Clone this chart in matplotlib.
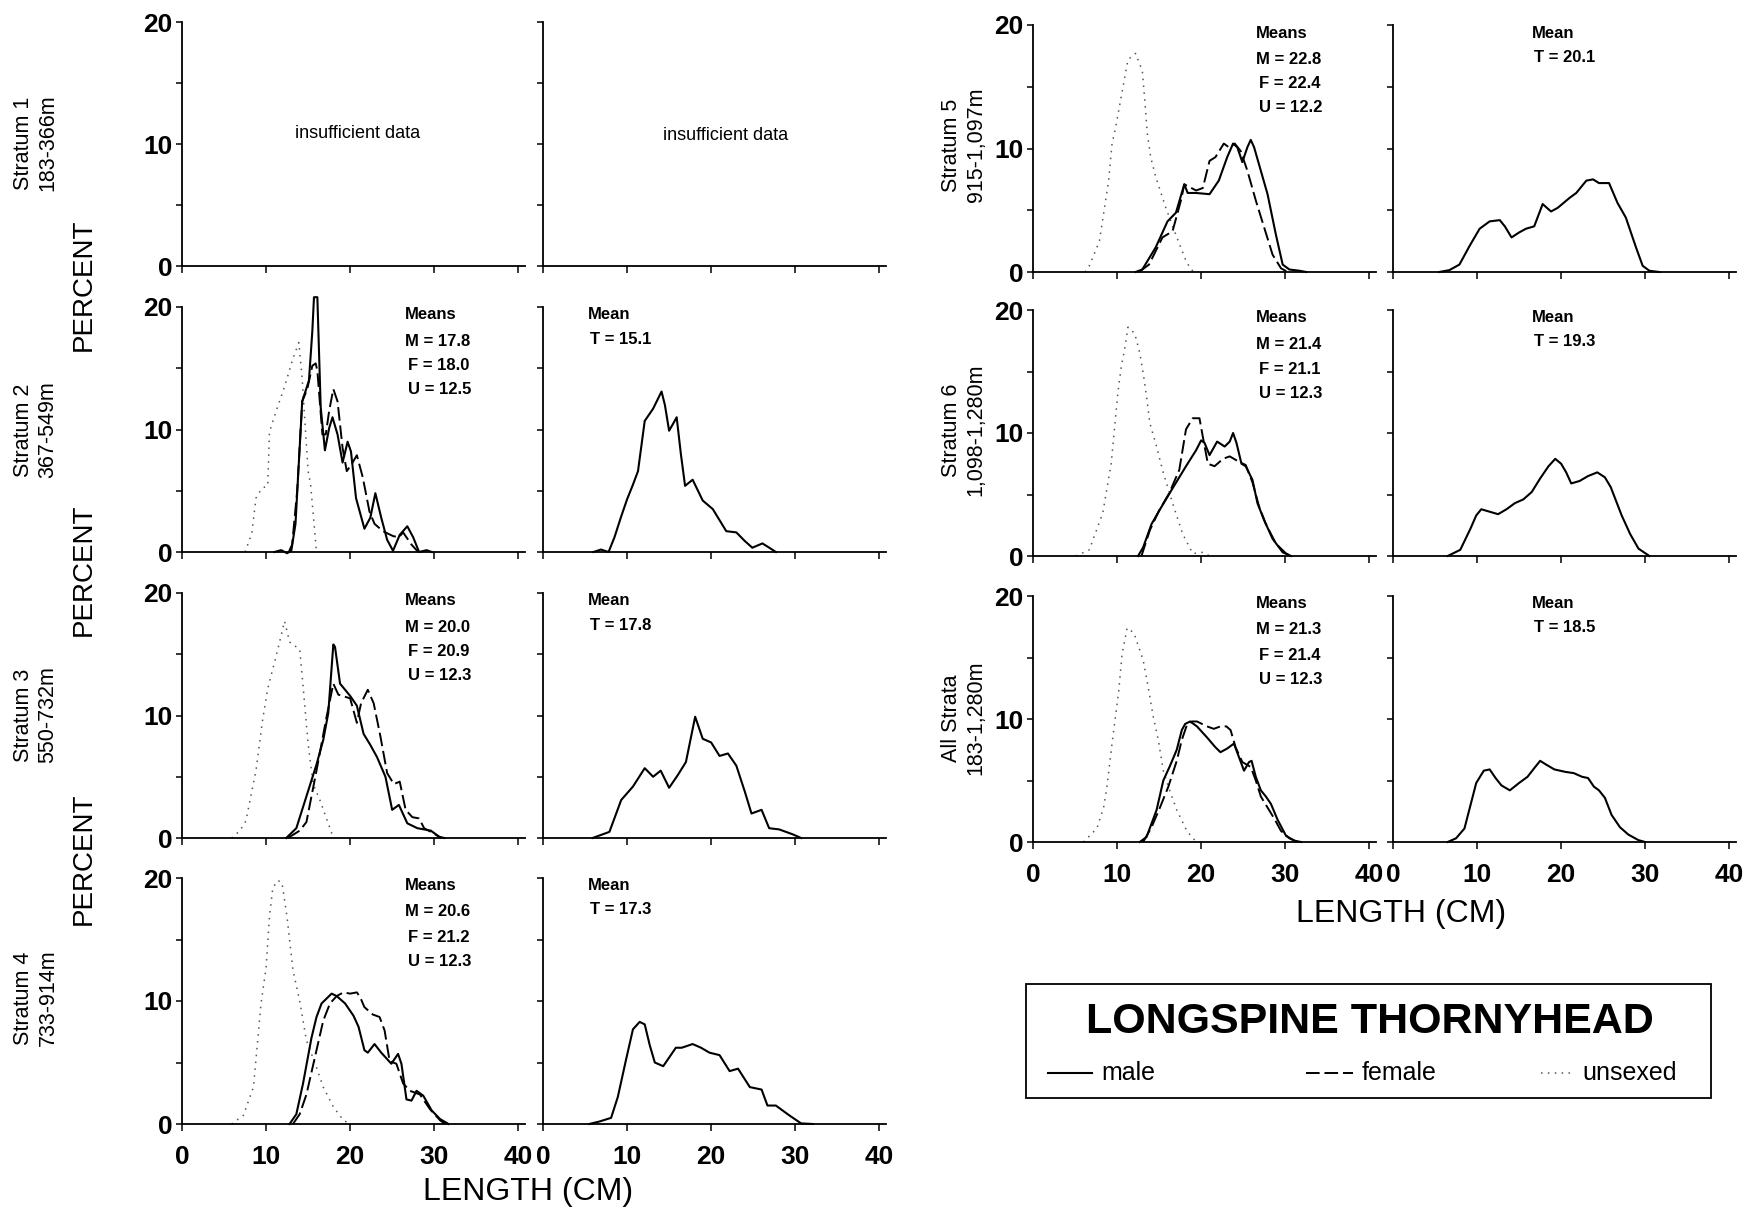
import matplotlib
matplotlib.use("Agg")
import matplotlib.pyplot as plt
from matplotlib.lines import Line2D
from matplotlib.patches import Rectangle

plt.rcParams['font.family'] = ['Liberation Sans', 'DejaVu Sans']

# ---------------- data (length cm, percent) ----------------
# Stratum 2
s2_male_x = [11.0, 11.8, 12.5, 13.0, 13.5, 14.3, 15.1, 15.5, 15.7, 16.1, 16.5, 17.0, 17.5, 17.9, 18.5, 19.1, 19.7, 20.1, 20.7, 21.7, 22.4, 23.0, 23.7, 24.4, 25.1, 25.9, 26.8, 27.5, 28.2, 29.1, 29.7]
s2_male_y = [0, 0.15, -0.1, 0.1, 2.3, 12.3, 14.0, 18.0, 20.8, 20.8, 11.8, 8.3, 10.1, 11.0, 9.6, 7.3, 9.0, 8.2, 4.4, 1.9, 2.8, 4.8, 2.8, 1.0, 0.1, 1.4, 2.1, 1.2, 0.0, 0.15, 0.0]
s2_female_x = [12.7, 13.1, 13.7, 14.3, 14.9, 15.5, 15.9, 16.1, 16.7, 17.1, 17.5, 18.0, 18.5, 19.1, 19.6, 20.2, 20.8, 21.5, 22.3, 22.9, 23.9, 25.1, 25.8, 26.3, 27.3, 28.1]
s2_female_y = [0, 0.6, 5.0, 12.3, 13.3, 15.2, 15.4, 14.8, 9.6, 9.6, 11.5, 13.3, 12.3, 8.5, 6.6, 7.2, 7.9, 6.1, 3.3, 2.3, 1.7, 1.3, 1.2, 1.6, 0.6, 0]
s2_unsexed_x = [7.5, 8.3, 8.8, 9.5, 10.2, 10.4, 11.2, 12.2, 13.2, 13.9, 14.3, 15.0, 15.3, 16.0]
s2_unsexed_y = [0, 1.5, 4.4, 5.2, 5.4, 9.8, 11.5, 13.5, 15.8, 17.1, 14.1, 6.6, 5.5, 0]
s2_total_x = [6.0, 6.9, 7.8, 8.5, 9.3, 10.0, 10.7, 11.3, 12.1, 13.1, 14.1, 14.5, 15.0, 15.5, 15.9, 16.4, 16.9, 17.8, 19.0, 20.2, 21.0, 21.8, 23.0, 24.0, 24.9, 26.1, 26.8, 27.7]
s2_total_y = [0, 0.2, 0.0, 1.2, 2.9, 4.3, 5.5, 6.6, 10.7, 11.7, 13.1, 12.0, 9.9, 10.5, 11.0, 8.0, 5.4, 5.9, 4.2, 3.5, 2.6, 1.7, 1.6, 0.9, 0.35, 0.7, 0.4, 0]

# Stratum 3
s3_male_x = [12.4, 13.6, 14.8, 16.0, 16.8, 17.4, 18.0, 18.2, 18.8, 20.0, 20.8, 21.6, 22.4, 23.2, 24.2, 25.0, 25.8, 26.8, 28.0, 29.6, 30.6, 31.2]
s3_male_y = [0, 0.8, 3.4, 6.0, 8.0, 10.2, 15.8, 15.6, 12.6, 11.6, 10.8, 8.5, 7.6, 6.6, 5.0, 2.3, 2.7, 1.2, 0.8, 0.6, 0.1, 0]
s3_female_x = [12.6, 14.0, 14.8, 16.0, 17.2, 18.0, 18.6, 20.0, 20.8, 21.3, 22.1, 22.8, 23.6, 24.4, 25.2, 25.9, 26.6, 27.4, 28.2, 28.8, 30.0, 30.8]
s3_female_y = [0, 0.6, 1.3, 5.5, 9.9, 12.6, 11.7, 11.4, 9.4, 11.0, 12.1, 11.0, 8.3, 5.3, 4.4, 4.6, 2.3, 1.7, 1.6, 0.8, 0.35, 0]
s3_unsexed_x = [5.9, 6.9, 7.6, 8.8, 9.6, 10.2, 11.4, 12.2, 12.8, 14.0, 14.4, 15.0, 15.6, 16.4, 17.6, 18.0]
s3_unsexed_y = [0, 0.6, 1.4, 5.5, 9.7, 12.2, 15.4, 17.7, 16.0, 15.4, 12.4, 7.7, 4.4, 3.1, 0.8, 0]
s3_total_x = [5.9, 7.9, 9.3, 10.7, 12.1, 13.1, 14.0, 15.0, 16.0, 17.0, 18.1, 19.0, 20.0, 21.0, 22.0, 23.0, 24.0, 24.8, 26.0, 26.9, 28.1, 29.7, 30.7]
s3_total_y = [0, 0.5, 3.1, 4.2, 5.7, 5.0, 5.5, 4.1, 5.1, 6.2, 9.9, 8.1, 7.8, 6.7, 6.9, 5.9, 3.8, 2.0, 2.3, 0.8, 0.7, 0.3, 0]

# Stratum 4
s4_male_x = [12.8, 13.6, 14.4, 15.4, 16.0, 16.6, 17.8, 18.4, 19.4, 20.4, 21.0, 21.7, 22.1, 22.9, 23.7, 24.9, 25.7, 26.1, 26.7, 27.3, 27.9, 28.7, 29.7, 30.7, 31.7]
s4_male_y = [0, 0.8, 3.3, 7.0, 8.7, 9.8, 10.6, 10.4, 9.8, 8.8, 7.9, 6.0, 5.8, 6.5, 5.8, 4.9, 5.7, 4.9, 2.0, 1.9, 2.7, 2.3, 1.1, 0.4, 0]
s4_female_x = [13.2, 14.0, 14.8, 15.8, 16.8, 17.6, 18.4, 19.2, 20.0, 20.8, 21.2, 21.7, 22.7, 23.5, 24.1, 24.7, 25.5, 26.3, 27.1, 28.3, 29.5, 30.7, 31.3]
s4_female_y = [0, 0.8, 2.4, 5.4, 8.4, 9.8, 10.4, 10.7, 10.6, 10.7, 10.3, 9.5, 8.9, 8.7, 7.6, 5.1, 4.9, 3.3, 2.7, 2.4, 1.2, 0.3, 0]
s4_unsexed_x = [5.9, 7.3, 8.5, 9.4, 10.0, 10.4, 10.8, 11.4, 11.9, 12.5, 13.2, 14.0, 14.8, 16.0, 16.8, 18.0, 19.2, 20.0]
s4_unsexed_y = [0, 0.7, 3.0, 9.8, 12.7, 16.8, 19.2, 19.8, 19.6, 16.8, 12.5, 10.0, 6.8, 4.6, 3.0, 1.4, 0.3, 0]
s4_total_x = [5.5, 6.7, 8.1, 8.9, 9.9, 10.7, 11.5, 12.1, 12.7, 13.3, 14.3, 15.0, 15.8, 16.5, 17.8, 18.8, 19.8, 21.0, 22.2, 23.2, 24.6, 26.0, 26.7, 27.7, 29.3, 30.7, 32.1]
s4_total_y = [0, 0.2, 0.5, 2.2, 5.3, 7.7, 8.3, 8.1, 6.4, 5.0, 4.7, 5.4, 6.2, 6.2, 6.5, 6.2, 5.8, 5.6, 4.3, 4.5, 3.0, 2.8, 1.5, 1.5, 0.7, 0.05, 0]

# Stratum 5
s5_male_x = [12.2, 13.0, 14.6, 16.0, 17.0, 18.0, 18.4, 19.4, 21.0, 22.1, 23.1, 23.8, 24.3, 24.9, 25.5, 25.9, 26.3, 27.1, 27.9, 28.9, 29.7, 30.5, 31.7, 32.5]
s5_male_y = [0, 0.2, 2.0, 4.1, 4.8, 7.1, 6.4, 6.4, 6.3, 7.4, 9.3, 10.4, 10.1, 8.9, 10.1, 10.7, 10.1, 8.2, 6.3, 3.0, 0.6, 0.2, 0.1, 0]
s5_female_x = [12.6, 13.8, 15.4, 16.6, 17.6, 18.0, 19.4, 20.2, 21.0, 21.7, 22.7, 23.3, 24.0, 24.7, 25.5, 26.5, 27.5, 28.5, 29.5, 30.3]
s5_female_y = [0, 0.6, 2.8, 3.3, 5.8, 7.1, 6.6, 6.8, 9.0, 9.3, 10.4, 10.1, 10.4, 9.8, 8.2, 5.8, 3.6, 1.4, 0.3, 0]
s5_unsexed_x = [6.2, 6.7, 7.9, 9.0, 9.4, 9.8, 11.3, 12.2, 13.0, 13.3, 13.6, 14.0, 14.6, 15.8, 17.0, 18.2, 18.8, 19.2]
s5_unsexed_y = [0, 0.5, 2.5, 7.4, 10.4, 11.6, 17.2, 17.7, 16.3, 13.9, 11.2, 9.3, 7.7, 5.2, 3.0, 0.9, 0.2, 0]
s5_total_x = [5.5, 6.7, 7.9, 9.1, 10.3, 11.5, 12.7, 13.3, 14.1, 15.0, 15.8, 16.8, 17.8, 18.8, 19.6, 21.0, 21.8, 23.0, 23.8, 24.5, 25.7, 26.7, 27.7, 28.9, 29.7, 30.5, 31.7]
s5_total_y = [0.0, 0.15, 0.6, 2.1, 3.5, 4.1, 4.2, 3.7, 2.8, 3.2, 3.5, 3.7, 5.5, 4.9, 5.2, 6.0, 6.4, 7.4, 7.5, 7.2, 7.2, 5.6, 4.4, 2.0, 0.5, 0.1, 0]

# Stratum 6
s6_male_x = [12.5, 13.1, 14.1, 15.2, 16.6, 18.2, 19.4, 20.0, 20.4, 21.0, 21.9, 22.8, 23.4, 23.8, 24.2, 24.8, 25.3, 26.1, 26.7, 27.5, 28.5, 29.7, 30.7]
s6_male_y = [0, 0.7, 2.6, 3.9, 5.5, 7.3, 8.6, 9.4, 9.2, 8.2, 9.3, 8.9, 9.3, 10.0, 9.2, 7.5, 7.3, 6.2, 4.3, 2.9, 1.4, 0.3, 0]
s6_female_x = [12.9, 13.9, 15.0, 16.2, 17.4, 18.2, 19.0, 19.8, 20.2, 20.8, 21.6, 22.6, 23.4, 24.4, 25.3, 26.1, 26.9, 27.7, 28.9, 30.1, 30.9]
s6_female_y = [0, 2.1, 3.7, 5.1, 7.0, 10.3, 11.2, 11.2, 9.7, 7.5, 7.3, 7.9, 8.1, 7.7, 7.4, 6.0, 4.0, 2.6, 1.0, 0.2, 0]
s6_unsexed_x = [5.1, 6.7, 8.3, 9.3, 10.1, 10.5, 10.9, 11.3, 12.1, 12.7, 13.1, 13.5, 13.9, 14.7, 15.4, 16.6, 17.8, 19.0, 20.2, 21.0]
s6_unsexed_y = [0, 0.5, 3.5, 7.5, 13.3, 15.4, 16.8, 18.6, 18.1, 16.5, 14.9, 13.0, 10.8, 8.9, 7.0, 4.3, 1.8, 0.2, 0.3, 0]
s6_total_x = [6.5, 8.0, 9.2, 9.9, 10.5, 11.5, 12.5, 13.5, 14.5, 15.5, 16.5, 17.5, 18.5, 19.3, 20.0, 20.6, 21.2, 22.2, 23.2, 24.3, 25.2, 25.9, 27.2, 28.2, 29.2, 30.5]
s6_total_y = [0, 0.5, 2.2, 3.3, 3.8, 3.6, 3.4, 3.8, 4.3, 4.6, 5.2, 6.3, 7.3, 7.9, 7.5, 6.8, 5.9, 6.1, 6.5, 6.8, 6.4, 5.6, 3.3, 1.8, 0.6, 0]

# All strata
s7_male_x = [12.7, 13.5, 14.7, 15.5, 16.3, 17.1, 17.7, 18.1, 18.7, 19.5, 20.7, 21.7, 22.3, 23.1, 23.9, 24.5, 25.1, 25.7, 26.0, 26.5, 27.1, 27.7, 28.3, 29.1, 30.1, 31.1, 31.9]
s7_male_y = [0, 0.4, 2.6, 5.0, 6.2, 7.5, 9.1, 9.6, 9.8, 9.4, 8.5, 7.7, 7.3, 7.6, 8.0, 6.9, 5.8, 6.5, 6.6, 5.3, 4.2, 3.7, 3.1, 1.8, 0.5, 0.1, 0]
s7_female_x = [13.1, 14.1, 15.1, 16.1, 17.1, 17.7, 18.3, 18.9, 19.5, 20.7, 21.5, 22.3, 23.0, 23.5, 24.1, 24.9, 25.9, 26.5, 27.1, 27.9, 28.7, 29.5, 30.5, 31.5]
s7_female_y = [0, 1.2, 2.8, 4.5, 6.6, 8.3, 9.5, 9.8, 9.8, 9.4, 9.2, 9.4, 9.4, 9.1, 7.7, 6.5, 6.1, 5.0, 3.7, 2.8, 1.9, 0.9, 0.3, 0]
s7_unsexed_x = [6.0, 7.6, 8.4, 8.8, 9.4, 10.2, 10.6, 11.2, 12.0, 13.1, 13.7, 14.3, 14.9, 15.5, 16.1, 17.1, 18.3, 19.3, 19.9]
s7_unsexed_y = [0, 1.1, 2.8, 4.5, 8.0, 12.3, 15.3, 17.4, 17.0, 14.8, 12.6, 10.2, 8.3, 5.8, 4.5, 2.6, 0.9, 0.1, 0]
s7_total_x = [6.5, 7.5, 8.5, 9.9, 10.8, 11.5, 12.2, 12.9, 13.9, 15.0, 16.0, 16.8, 17.5, 18.2, 19.2, 20.5, 21.5, 22.5, 23.2, 23.9, 24.5, 25.2, 26.0, 27.0, 28.0, 29.2, 30.0]
s7_total_y = [0, 0.3, 1.1, 4.8, 5.8, 5.9, 5.2, 4.6, 4.2, 4.8, 5.3, 6.0, 6.6, 6.3, 5.9, 5.7, 5.6, 5.3, 5.2, 4.5, 4.2, 3.6, 2.2, 1.2, 0.6, 0.15, 0]

x_ticks = [0, 10, 20, 30, 40]
y_ticks = [0, 10, 20]
y_minor = [5, 15]

strata_left = ["Stratum 1\n183-366m", "Stratum 2\n367-549m", "Stratum 3\n550-732m", "Stratum 4\n733-914m"]
strata_right = ["Stratum 5\n915-1,097m", "Stratum 6\n1,098-1,280m", "All Strata\n183-1,280m"]

means_sex = {
    2: ("17.8", "18.0", "12.5"),
    3: ("20.0", "20.9", "12.3"),
    4: ("20.6", "21.2", "12.3"),
    5: ("22.8", "22.4", "12.2"),
    6: ("21.4", "21.1", "12.3"),
    7: ("21.3", "21.4", "12.3"),
}
means_total = {2: "15.1", 3: "17.8", 4: "17.3", 5: "20.1", 6: "19.3", 7: "18.5"}

# ---------------- figure ----------------
W, H = 1753, 1211
fig = plt.figure(figsize=(W / 100, H / 100), dpi=100)

def px_text(x, y, s, **kw):
    return fig.text(x / W, 1 - y / H, s, **kw)

def add_ax(left, top, bottom, width=343):
    ax = fig.add_axes([left / W, 1 - bottom / H, width / W, (bottom - top) / H])
    ax.set_xlim(0, 40.8)
    ax.set_ylim(0, 20)
    ax.patch.set_visible(False)
    for s in ("top", "right"):
        ax.spines[s].set_visible(False)
    for s in ("left", "bottom"):
        ax.spines[s].set_linewidth(1.3)
    ax.set_xticks(x_ticks)
    ax.set_yticks(y_ticks)
    ax.set_yticks(y_minor, minor=True)
    ax.tick_params(which="both", direction="out", length=4, width=1.1)
    ax.tick_params(axis="x", length=5)
    ax.set_xticklabels([])
    ax.set_yticklabels([])
    return ax

MALE = dict(color="black", lw=1.5, ls="-", clip_on=False, solid_joinstyle="round")
FEMALE = dict(color="black", lw=1.4, dashes=(7, 2.5), clip_on=False)
UNSEX = dict(color="#555555", lw=1.1, dashes=(1, 3.5), clip_on=False)
TOTAL = dict(color="black", lw=1.5, ls="-", clip_on=False, solid_joinstyle="round")

series = {
    2: (s2_male_x, s2_male_y, s2_female_x, s2_female_y, s2_unsexed_x, s2_unsexed_y, s2_total_x, s2_total_y),
    3: (s3_male_x, s3_male_y, s3_female_x, s3_female_y, s3_unsexed_x, s3_unsexed_y, s3_total_x, s3_total_y),
    4: (s4_male_x, s4_male_y, s4_female_x, s4_female_y, s4_unsexed_x, s4_unsexed_y, s4_total_x, s4_total_y),
    5: (s5_male_x, s5_male_y, s5_female_x, s5_female_y, s5_unsexed_x, s5_unsexed_y, s5_total_x, s5_total_y),
    6: (s6_male_x, s6_male_y, s6_female_x, s6_female_y, s6_unsexed_x, s6_unsexed_y, s6_total_x, s6_total_y),
    7: (s7_male_x, s7_male_y, s7_female_x, s7_female_y, s7_unsexed_x, s7_unsexed_y, s7_total_x, s7_total_y),
}

# layout (pixel positions): panel id -> (sex-axis left, total-axis left, top, bottom, is_bottom_row)
layout = {
    1: (182, 543, 22, 266, False),
    2: (182, 543, 307, 552, False),
    3: (182, 543, 593, 838, False),
    4: (182, 543, 878, 1124, True),
    5: (1033, 1393, 25, 272, False),
    6: (1033, 1393, 310, 556, False),
    7: (1033, 1393, 596, 842, True),
}

tick_font = dict(fontsize=19, fontweight="bold")
means_font = dict(fontsize=12, fontweight="bold", ha="left", va="center")

for pid, (la, lb, top, bot, is_bottom) in layout.items():
    axA = add_ax(la, top, bot)
    axB = add_ax(lb, top, bot)
    axA.set_yticklabels([str(v) for v in y_ticks], **tick_font)
    axA.tick_params(axis="y", pad=3)
    if is_bottom:
        for ax in (axA, axB):
            ax.set_xticklabels([str(v) for v in x_ticks], **tick_font)
            ax.tick_params(axis="x", pad=10)
    if pid == 1:
        px_text(358, 134, "insufficient data", fontsize=13, ha="center", va="center")
        px_text(726, 135, "insufficient data", fontsize=13, ha="center", va="center")
        continue
    mx, my, fx, fy, ux, uy, tx, ty = series[pid]
    axA.plot(ux, uy, **UNSEX)
    axA.plot(fx, fy, **FEMALE)
    axA.plot(mx, my, **MALE)
    axB.plot(tx, ty, **TOTAL)
    m, f, u = means_sex[pid]
    if la < 500:
        mxp, tbx = 405, 588
    else:
        mxp, tbx = 1256, 1532
    y0 = top + 8
    px_text(mxp, y0, "Means", **means_font)
    px_text(mxp, y0 + 26, "M = " + m, **means_font)
    px_text(mxp + 3, y0 + 51, "F = " + f, **means_font)
    px_text(mxp + 3, y0 + 75, "U = " + u, **means_font)
    px_text(tbx, y0, "Mean", **means_font)
    px_text(tbx + 2, y0 + 24, "T = " + means_total[pid], **means_font)

# stratum labels
left_centers = [143, 430, 715, 998]
for lab, yc in zip(strata_left, left_centers):
    px_text(36, yc, lab, fontsize=15.5, rotation=90, ha="center", va="center", multialignment="center", linespacing=1.2)
right_centers = [145, 430, 718]
for lab, yc in zip(strata_right, right_centers):
    px_text(964, yc, lab, fontsize=15.5, rotation=90, ha="center", va="center", multialignment="center", linespacing=1.2)

# PERCENT labels
for yc in (285, 570, 859):
    px_text(84, yc, "PERCENT", fontsize=20, rotation=90, ha="center", va="center")

# LENGTH labels
px_text(528, 1192, "LENGTH (CM)", fontsize=23, ha="center", va="center")
px_text(1401, 914, "LENGTH (CM)", fontsize=23, ha="center", va="center")

# legend box
fig.add_artist(Rectangle((1026 / W, 1 - 1098 / H), (1711 - 1026) / W, (1098 - 984) / H,
                         transform=fig.transFigure, fill=False, lw=1.3, color="black"))
px_text(1370, 1022, "LONGSPINE THORNYHEAD", fontsize=31, fontweight="bold", ha="center", va="center")
ly = 1073
fig.add_artist(Line2D([1048 / W, 1092 / W], [1 - ly / H] * 2, transform=fig.transFigure, color="black", lw=1.5))
px_text(1101, ly, "male", fontsize=18, ha="left", va="center")
fig.add_artist(Line2D([1306 / W, 1353 / W], [1 - ly / H] * 2, transform=fig.transFigure, color="black", lw=1.4, dashes=(7, 2.5)))
px_text(1362, ly, "female", fontsize=18, ha="left", va="center")
fig.add_artist(Line2D([1541 / W, 1573 / W], [1 - ly / H] * 2, transform=fig.transFigure, color="#555555", lw=1.1, dashes=(1, 3.5)))
px_text(1582, ly, "unsexed", fontsize=18, ha="left", va="center")

fig.savefig("out.png", dpi=100, facecolor="white")
